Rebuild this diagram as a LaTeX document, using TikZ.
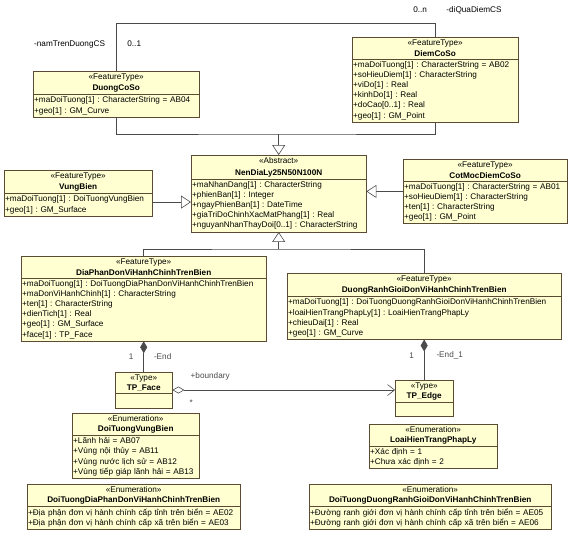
\documentclass[tikz,border=0pt]{standalone}
\usepackage{fontspec}
\setmainfont{Liberation Sans}
\usetikzlibrary{arrows.meta,shapes.multipart,positioning,calc}
\definecolor{pale}{HTML}{FFFFD2}
\definecolor{rim}{HTML}{5C4B33}
\definecolor{wire}{HTML}{4A4A4A}
\frenchspacing
\hyphenpenalty=10000

\begin{document}
\begin{tikzpicture}[x=1pt,y=-1pt,
   cls/.style={rectangle split,rectangle split parts=2,draw=rim,fill=pale,
     text width=#1,align=left,inner xsep=1pt,inner ysep=2pt,anchor=north west,
     font=\fontsize{8.2}{10.2}\selectfont},
   ln/.style={wire,line width=0.6pt},
   gen/.style={ln,-{Triangle[open,length=10pt,width=13pt,fill=white]}},
   comp/.style={ln,{Diamond[length=12pt,width=7pt]}-},
   agg/.style={ln,{Diamond[open,length=12pt,width=7pt,fill=white]}-{Straight Barb[length=7pt,width=11pt]}},
   lbl/.style={font=\fontsize{8.2}{10}\selectfont,inner sep=0pt}]
  \useasboundingbox (0,0) rectangle (574,536);

  % classes
  \node[cls=164pt] (duong) at (33,71) {{\centering «FeatureType»\\[1.5pt]\textbf{DuongCoSo}\par}
    \nodepart{two}+maDoiTuong[1] : CharacterString = AB04\\+geo[1] : GM\_Curve};
  \node[cls=164pt] (diem) at (352,37) {{\centering «FeatureType»\\[1.5pt]\textbf{DiemCoSo}\par}
    \nodepart{two}+maDoiTuong[1] : CharacterString = AB02\\+soHieuDiem[1] : CharacterString\\+viDo[1] : Real\\+kinhDo[1] : Real\\+doCao[0..1] : Real\\+geo[1] : GM\_Point};
  \node[cls=146pt] (vung) at (4,170) {{\centering «FeatureType»\\[1.5pt]\textbf{VungBien}\par}
    \nodepart{two}+maDoiTuong[1] : DoiTuongVungBien\\+geo[1] : GM\_Surface};
  \node[cls=173pt] (nen) at (191,155) {{\centering «Abstract»\\[1.5pt]\textbf{NenDiaLy25N50N100N}\par}
    \nodepart{two}+maNhanDang[1] : CharacterString\\+phienBan[1] : Integer\\+ngayPhienBan[1] : DateTime\\+giaTriDoChinhXacMatPhang[1] : Real\\+nguyanNhanThayDoi[0..1] : CharacterString};
  \node[cls=162pt] (cot) at (403,159) {{\centering «FeatureType»\\[1.5pt]\textbf{CotMocDiemCoSo}\par}
    \nodepart{two}+maDoiTuong[1] : CharacterString = AB01\\+soHieuDiem[1] : CharacterString\\+ten[1] : CharacterString\\+geo[1] : GM\_Point};
  \node[cls=243pt] (dia) at (21,256) {{\centering «FeatureType»\\[1.5pt]\textbf{DiaPhanDonViHanhChinhTrenBien}\par}
    \nodepart{two}+maDoiTuong[1] : DoiTuongDiaPhanDonViHanhChinhTrenBien\\+maDonViHanhChinh[1] : CharacterString\\+ten[1] : CharacterString\\+dienTich[1] : Real\\+geo[1] : GM\_Surface\\+face[1] : TP\_Face};
  \node[cls=272pt] (ranh) at (287,273) {{\centering «FeatureType»\\[1.5pt]\textbf{DuongRanhGioiDonViHanhChinhTrenBien}\par}
    \nodepart{two}+maDoiTuong[1] : DoiTuongDuongRanhGioiDonViHanhChinhTrenBien\\+loaiHienTrangPhapLy[1] : LoaiHienTrangPhapLy\\+chieuDai[1] : Real\\+geo[1] : GM\_Curve};
  \node[cls=55pt] (face) at (115,372) {{\centering «Type»\\\textbf{TP\_Face}\par}
    \nodepart{two}\rule{0pt}{10pt}};
  \node[cls=56pt] (edge) at (395,380) {{\centering «Type»\\\textbf{TP\_Edge}\par}
    \nodepart{two}\rule{0pt}{10pt}};

  % enumerations
  \node[cls=125pt] (evb) at (72,413) {{\centering «Enumeration»\\\textbf{DoiTuongVungBien}\par}
    \nodepart{two}+Lãnh hải = AB07\\+Vùng nội thủy = AB11\\+Vùng nước lịch sử = AB12\\+Vùng tiếp giáp lãnh hải = AB13};
  \node[cls=211pt] (edp) at (27,484) {{\centering «Enumeration»\\\textbf{DoiTuongDiaPhanDonViHanhChinhTrenBien}\par}
    \nodepart{two}+Địa phận đơn vị hành chính cấp tỉnh trên biển = AE02\\+Địa phận đơn vị hành chính cấp xã trên biển = AE03};
  \node[cls=126pt] (eht) at (369,424) {{\centering «Enumeration»\\\textbf{LoaiHienTrangPhapLy}\par}
    \nodepart{two}+Xác định = 1\\+Chưa xác định = 2};
  \node[cls=240pt] (edr) at (309,484) {{\centering «Enumeration»\\\textbf{DoiTuongDuongRanhGioiDonViHanhChinhTrenBien}\par}
    \nodepart{two}+Đường ranh giới đơn vị hành chính cấp tỉnh trên biển = AE05\\+Đường ranh giới đơn vị hành chính cấp xã trên biển = AE06};

  % association DuongCoSo -- DiemCoSo
  \coordinate (ca) at ([yshift=48pt]duong.north);
  \coordinate (cb) at (ca -| diem.north);
  \draw[ln] (duong.north) -- (ca) -- (cb) -- (diem.north);
  \node[lbl,anchor=east] (nm) at ([xshift=-11pt,yshift=-21pt]ca) {-namTrenDuongCS};
  \node[lbl,anchor=west] (m1) at ([xshift=11pt,yshift=-21pt]ca) {0..1};
  \node[lbl,anchor=east] (mn) at ([xshift=-8pt,yshift=13pt]cb) {0..n};
  \node[lbl,anchor=west] (dq) at ([xshift=11pt,yshift=13pt]cb) {-diQuaDiemCS};

  % generalisations
  \coordinate (jt) at ([yshift=21pt]nen.north);
  \coordinate (jb) at ([yshift=-17pt]nen.south);
  \draw[ln] (duong.south) |- (jt) -| (diem.south);
  \draw[gen] (jt) -- (nen.north);
  \draw[ln] (dia.north) |- (jb) -| (ranh.north);
  \draw[gen] (jb) -- (nen.south);
  \draw[gen] ([yshift=-9pt]vung.east) -- ([yshift=-9pt]vung.east -| nen.west);
  \draw[gen] (cot.west) -- (cot.west -| nen.east);

  % topology
  \draw[comp] (dia.south) -- node[lbl,left=10pt]{1} node[lbl,right=10pt]{-End} (face.north);
  \draw[comp] (ranh.south) -- node[lbl,pos=.4,left=10pt]{1} node[lbl,pos=.4,right=12pt]{-End\_1} (edge.north);
  \draw[agg] (face.east) -- node[lbl,pos=0,anchor=base west,xshift=18pt,yshift=12pt]{+boundary}
    node[lbl,pos=0,anchor=base west,xshift=17pt,yshift=-15pt]{*} (face.east -| edge.west);
\end{tikzpicture}
\end{document}
